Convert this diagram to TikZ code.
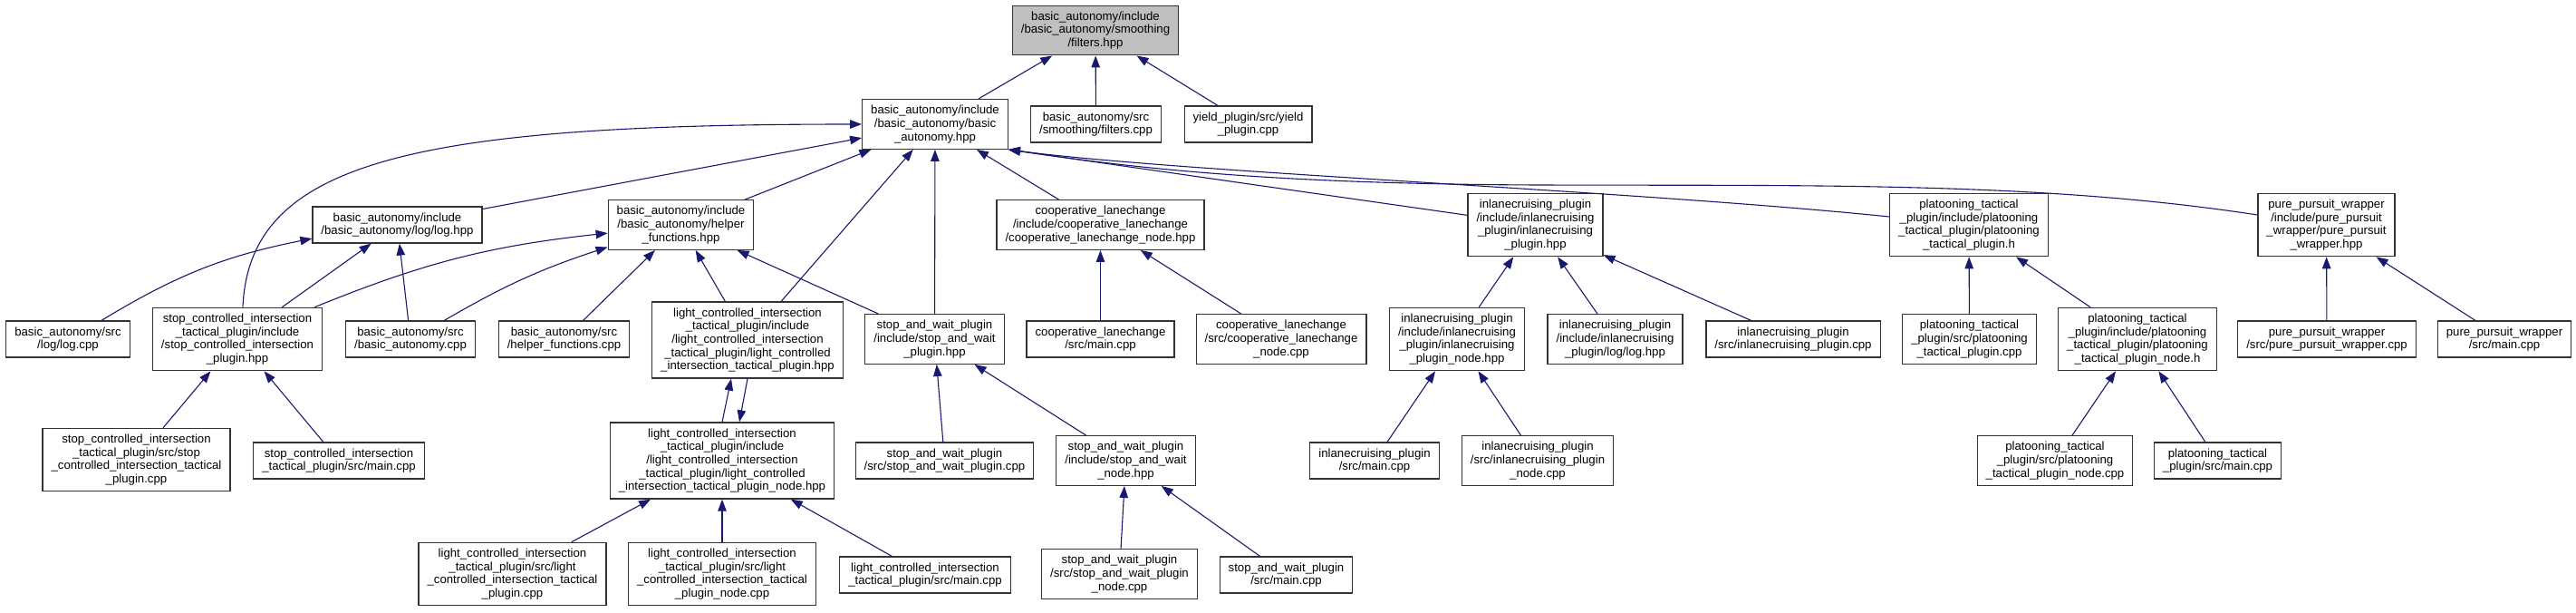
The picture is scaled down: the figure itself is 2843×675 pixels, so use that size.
\documentclass[tikz,border=0pt]{standalone}
\usepackage{fontspec}
\setmainfont{Liberation Sans}
\usetikzlibrary{arrows.meta}
\definecolor{midnight}{HTML}{191970}
\tikzset{
  file/.style={draw=black!80,line width=1.2pt,fill=white,align=center,
    inner xsep=9.5pt,inner ysep=6.5pt,font=\fontsize{13.2}{14.7}\selectfont},
  root/.style={file,fill=black!25},
  incl/.style={-{Triangle[length=13pt,width=9.5pt]},line width=1.1pt,draw=midnight},
}
\begin{document}
\begin{tikzpicture}[x=1pt,y=1pt]
  \useasboundingbox (0,0) rectangle (2843,-675);
  % ---- header that is included ----
  \node[root] (flt) at (1209,-33.5) {basic\_autonomy/include\\/basic\_autonomy/smoothing\\/filters.hpp};
  % ---- row 1 ----
  \node[file] (ba) at (1032,-137) {basic\_autonomy/include\\/basic\_autonomy/basic\\\_autonomy.hpp};
  \node[file] (fltcpp) at (1209.5,-137) {basic\_autonomy/src\\/smoothing/filters.cpp};
  \node[file] (yld) at (1377.5,-137) {yield\_plugin/src/yield\\\_plugin.cpp};
  % ---- row 2 ----
  \node[file] (loghpp) at (438.5,-248) {basic\_autonomy/include\\/basic\_autonomy/log/log.hpp};
  \node[file] (hlp) at (751.5,-248) {basic\_autonomy/include\\/basic\_autonomy/helper\\\_functions.hpp};
  \node[file] (coop) at (1214.5,-248) {cooperative\_lanechange\\/include/cooperative\_lanechange\\/cooperative\_lanechange\_node.hpp};
  \node[file] (ilc) at (1694.5,-248) {inlanecruising\_plugin\\/include/inlanecruising\\\_plugin/inlanecruising\\\_plugin.hpp};
  \node[file] (plt) at (2173,-248) {platooning\_tactical\\\_plugin/include/platooning\\\_tactical\_plugin/platooning\\\_tactical\_plugin.h};
  \node[file] (pp) at (2567.5,-248) {pure\_pursuit\_wrapper\\/include/pure\_pursuit\\\_wrapper/pure\_pursuit\\\_wrapper.hpp};
  % ---- row 3 ----
  \node[file] (logcpp) at (75,-374) {basic\_autonomy/src\\/log/log.cpp};
  \node[file] (sci) at (262,-374) {stop\_controlled\_intersection\\\_tactical\_plugin/include\\/stop\_controlled\_intersection\\\_plugin.hpp};
  \node[file] (bacpp) at (453,-374) {basic\_autonomy/src\\/basic\_autonomy.cpp};
  \node[file] (hlpcpp) at (622.5,-374) {basic\_autonomy/src\\/helper\_functions.cpp};
  \node[file] (lci) at (825,-375) {light\_controlled\_intersection\\\_tactical\_plugin/include\\/light\_controlled\_intersection\\\_tactical\_plugin/light\_controlled\\\_intersection\_tactical\_plugin.hpp};
  \node[file] (sw) at (1031.5,-374) {stop\_and\_wait\_plugin\\/include/stop\_and\_wait\\\_plugin.hpp};
  \node[file] (coopmain) at (1214.5,-374) {cooperative\_lanechange\\/src/main.cpp};
  \node[file] (coopcpp) at (1414,-374) {cooperative\_lanechange\\/src/cooperative\_lanechange\\\_node.cpp};
  \node[file] (ilcnode) at (1608,-374) {inlanecruising\_plugin\\/include/inlanecruising\\\_plugin/inlanecruising\\\_plugin\_node.hpp};
  \node[file] (ilclog) at (1782.5,-374) {inlanecruising\_plugin\\/include/inlanecruising\\\_plugin/log/log.hpp};
  \node[file] (ilccpp) at (1979,-374) {inlanecruising\_plugin\\/src/inlanecruising\_plugin.cpp};
  \node[file] (pltcpp) at (2173.5,-374) {platooning\_tactical\\\_plugin/src/platooning\\\_tactical\_plugin.cpp};
  \node[file] (pltnode) at (2359,-374) {platooning\_tactical\\\_plugin/include/platooning\\\_tactical\_plugin/platooning\\\_tactical\_plugin\_node.h};
  \node[file] (ppcpp) at (2568,-374) {pure\_pursuit\_wrapper\\/src/pure\_pursuit\_wrapper.cpp};
  \node[file] (ppmain) at (2764,-374) {pure\_pursuit\_wrapper\\/src/main.cpp};
  % ---- row 4 ----
  \node[file] (scicpp) at (150.5,-507) {stop\_controlled\_intersection\\\_tactical\_plugin/src/stop\\\_controlled\_intersection\_tactical\\\_plugin.cpp};
  \node[file] (scimain) at (374,-508) {stop\_controlled\_intersection\\\_tactical\_plugin/src/main.cpp};
  \node[file] (lcinode) at (797,-508) {light\_controlled\_intersection\\\_tactical\_plugin/include\\/light\_controlled\_intersection\\\_tactical\_plugin/light\_controlled\\\_intersection\_tactical\_plugin\_node.hpp};
  \node[file] (swcpp) at (1042.5,-508) {stop\_and\_wait\_plugin\\/src/stop\_and\_wait\_plugin.cpp};
  \node[file] (swnode) at (1242.5,-508) {stop\_and\_wait\_plugin\\/include/stop\_and\_wait\\\_node.hpp};
  \node[file] (ilcmain) at (1517,-508) {inlanecruising\_plugin\\/src/main.cpp};
  \node[file] (ilcnodecpp) at (1697,-508) {inlanecruising\_plugin\\/src/inlanecruising\_plugin\\\_node.cpp};
  \node[file] (pltnodecpp) at (2268,-508) {platooning\_tactical\\\_plugin/src/platooning\\\_tactical\_plugin\_node.cpp};
  \node[file] (pltmain) at (2447.5,-508) {platooning\_tactical\\\_plugin/src/main.cpp};
  % ---- row 5 ----
  \node[file] (lcicpp) at (565.5,-633) {light\_controlled\_intersection\\\_tactical\_plugin/src/light\\\_controlled\_intersection\_tactical\\\_plugin.cpp};
  \node[file] (lcinodecpp) at (797,-633) {light\_controlled\_intersection\\\_tactical\_plugin/src/light\\\_controlled\_intersection\_tactical\\\_plugin\_node.cpp};
  \node[file] (lcimain) at (1021,-634) {light\_controlled\_intersection\\\_tactical\_plugin/src/main.cpp};
  \node[file] (swnodecpp) at (1235.5,-633) {stop\_and\_wait\_plugin\\/src/stop\_and\_wait\_plugin\\\_node.cpp};
  \node[file] (swmain) at (1419.5,-634) {stop\_and\_wait\_plugin\\/src/main.cpp};

  % ---- include edges ----
  \draw[incl] (ba) -- (flt);
  \draw[incl] (fltcpp) -- (flt);
  \draw[incl] (yld) -- (flt);
  \draw[incl] ([xshift=6pt]sci.north) .. controls (275,-180) and (450,-137) .. (ba.west);
  \draw[incl] (loghpp) -- (ba);
  \draw[incl] (hlp) -- (ba);
  \draw[incl] (lci) -- (ba);
  \draw[incl] (sw) -- (ba);
  \draw[incl] (coop) -- (ba);
  \draw[incl] (ilc) -- (ba.south east);
  \draw[incl] ([yshift=9pt]plt.west) .. controls (1800,-210) and (1300,-190) .. (ba.south east);
  \draw[incl] ([yshift=11pt]pp.west) .. controls (2250,-200) and (2000,-205) .. (1700,-204)
    .. controls (1400,-203) and (1250,-185) .. (ba.south east);
  \draw[incl] (logcpp) to[bend left=10] (loghpp);
  \draw[incl] (sci) -- (loghpp);
  \draw[incl] (bacpp) -- (loghpp);
  \draw[incl] (sci) to[bend left=8] (hlp);
  \draw[incl] (bacpp) to[bend left=6] (hlp);
  \draw[incl] (hlpcpp) -- (hlp);
  \draw[incl] (lci) -- (hlp);
  \draw[incl] (sw) -- (hlp);
  \draw[incl] (scicpp) -- (sci);
  \draw[incl] (scimain) -- (sci);
  \draw[incl] (lcinode.north) -- ([xshift=-18pt]lci.south);
  \draw[incl] (lci.south) -- ([xshift=19pt]lcinode.north);
  \draw[incl] (lcicpp) -- (lcinode);
  \draw[incl] (lcinodecpp) -- (lcinode);
  \draw[incl] (lcimain) -- (lcinode);
  \draw[incl] (swcpp) -- (sw);
  \draw[incl] (swnode) -- (sw);
  \draw[incl] (swnodecpp) -- (swnode);
  \draw[incl] (swmain) -- (swnode);
  \draw[incl] (coopmain) -- (coop);
  \draw[incl] (coopcpp) -- (coop);
  \draw[incl] (ilcnode) -- (ilc);
  \draw[incl] (ilclog) -- (ilc);
  \draw[incl] (ilccpp) -- (ilc);
  \draw[incl] (ilcmain) -- (ilcnode);
  \draw[incl] (ilcnodecpp) -- (ilcnode);
  \draw[incl] (pltcpp) -- (plt);
  \draw[incl] (pltnode) -- (plt);
  \draw[incl] (pltnodecpp) -- (pltnode);
  \draw[incl] (pltmain) -- (pltnode);
  \draw[incl] (ppcpp) -- (pp);
  \draw[incl] (ppmain) -- (pp);
\end{tikzpicture}
\end{document}
